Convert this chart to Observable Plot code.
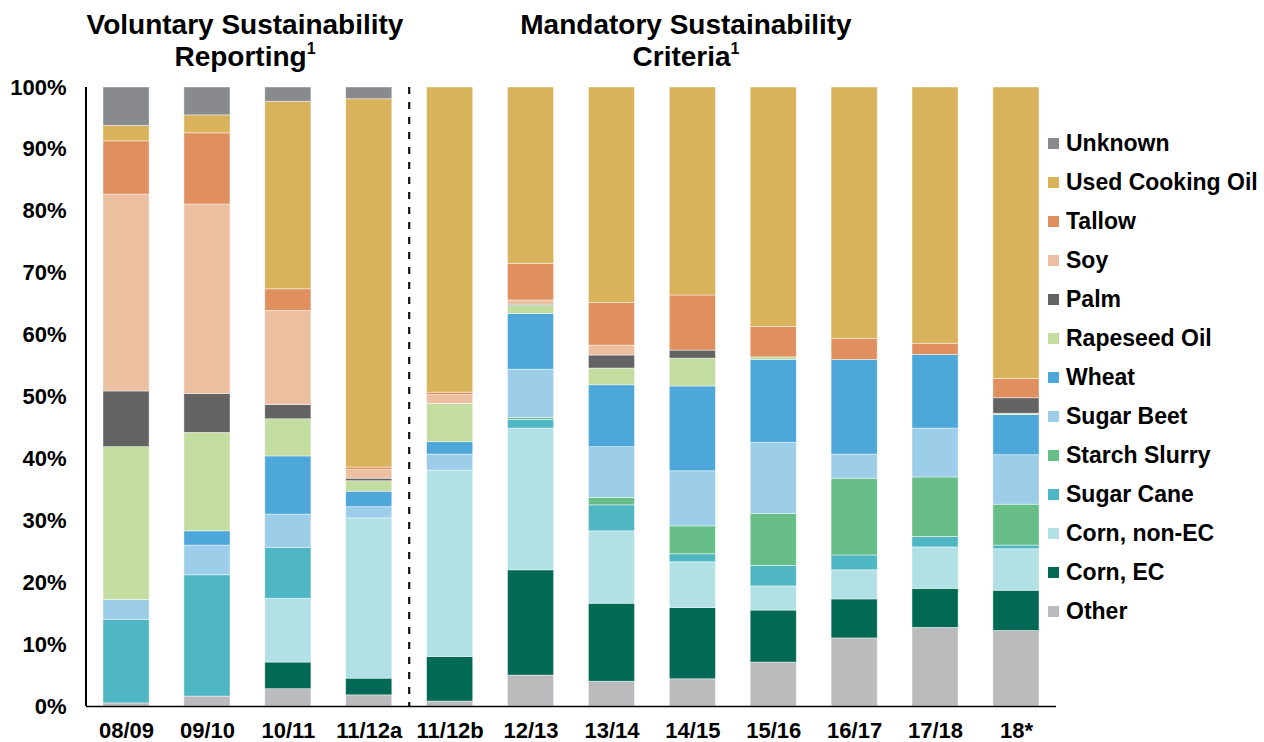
<!DOCTYPE html>
<html>
<head>
<meta charset="utf-8">
<script src="https://cdn.jsdelivr.net/npm/d3@7"></script>
<script src="https://cdn.jsdelivr.net/npm/@observablehq/plot@0.6"></script>
<style>
  html, body { margin: 0; padding: 0; background: #fff; }
  #wrap { position: relative; width: 1264px; height: 742px; font-family: "Liberation Sans", Arial, sans-serif; font-weight: bold; color: #000; }
  .title { position: absolute; top: 9px; width: 440px; text-align: center; font-size: 28px; line-height: 32px; }
  .title sup { font-size: 16px; line-height: 0; vertical-align: 12px; }
  #legend { position: absolute; left: 1048px; top: 124px; }
  .item { display: flex; align-items: center; height: 39px; font-size: 23px; white-space: nowrap; }
  .item .sw { width: 11px; height: 11px; margin-right: 7px; flex: none; }
  #chart { position: absolute; left: 0; top: 0; }
</style>
</head>
<body>
<div id="wrap">
  <div id="chart"></div>
  <div class="title" id="t1" style="left:25px">Voluntary Sustainability<br>Reporting<sup>1</sup></div>
  <div class="title" id="t2" style="left:466px">Mandatory Sustainability<br>Criteria<sup>1</sup></div>
  <div id="legend"></div>
</div>
<script>
// ---- data ----
const years = ["08/09","09/10","10/11","11/12a","11/12b","12/13","13/14","14/15","15/16","16/17","17/18","18*"];
const series = ["Other","Corn, EC","Corn, non-EC","Sugar Cane","Starch Slurry","Sugar Beet","Wheat","Rapeseed Oil","Palm","Soy","Tallow","Used Cooking Oil","Unknown"];
const colors = ["#bbbbbd","#026955","#b1e0e5","#4fb6c4","#67bf87","#9ccde9","#4ea7d9","#c2dd9f","#636363","#ecbfa1","#e08f5f","#d8b35b","#898a8d"];

const other      = [0.5, 1.6, 2.8, 1.8, 0.8, 5.0, 4.0, 4.4, 7.1, 11.0, 12.7, 12.2];
const cornEC     = [0, 0, 4.3, 2.7, 7.2, 17.0, 12.6, 11.5, 8.4, 6.3, 6.3, 6.5];
const cornNonEC  = [0, 0, 10.3, 25.9, 30.1, 22.9, 11.7, 7.4, 3.9, 4.7, 6.7, 6.7];
const sugarCane  = [13.5, 19.6, 8.2, 0, 0, 1.4, 4.2, 1.3, 3.3, 2.4, 1.7, 0.6];
const starch     = [0, 0, 0, 0, 0, 0.3, 1.2, 4.5, 8.4, 12.4, 9.6, 6.6];
const sugarBeet  = [3.2, 4.8, 5.4, 1.8, 2.6, 7.8, 8.2, 8.9, 11.5, 3.9, 7.9, 8.0];
const wheat      = [0, 2.3, 9.4, 2.5, 2.0, 9.0, 10.0, 13.7, 13.4, 15.3, 11.9, 6.5];
const rapeseed   = [24.7, 15.9, 6.0, 1.7, 6.2, 1.3, 2.7, 4.5, 0.4, 0, 0, 0.2];
const palm       = [9.0, 6.3, 2.3, 0.4, 0, 0.2, 2.1, 1.3, 0, 0, 0, 2.5];
const soy        = [31.8, 30.6, 15.2, 1.4, 1.4, 0.7, 1.6, 0, 0, 0, 0, 0];
const tallow     = [8.6, 11.5, 3.5, 0.4, 0.4, 5.9, 6.9, 8.9, 4.9, 3.4, 1.8, 3.1];
const uco        = [2.5, 2.9, 30.3, 59.5, 49.3, 28.5, 34.8, 33.6, 38.7, 40.6, 41.4, 47.1];
const unknown    = [6.2, 4.5, 2.3, 1.9, 0, 0, 0, 0, 0, 0, 0, 0];

const yTicks = [0, 10, 20, 30, 40, 50, 60, 70, 80, 90, 100];
const dividerAfter = "11/12a";

// ---- build tidy table ----
const valuesBySeries = [other, cornEC, cornNonEC, sugarCane, starch, sugarBeet, wheat, rapeseed, palm, soy, tallow, uco, unknown];
const rows = [];
series.forEach((s, si) => {
  years.forEach((yr, yi) => rows.push({year: yr, source: s, value: valuesBySeries[si][yi]}));
});

const chart = Plot.plot({
  width: 1264,
  height: 742,
  marginTop: 87,
  marginBottom: 36,
  marginLeft: 86,
  marginRight: 208,
  style: {fontFamily: '"Liberation Sans", Arial, sans-serif', fontSize: "22px", fontWeight: "bold", color: "#000", background: "transparent", overflow: "visible"},
  x: {domain: years, paddingInner: 0.43, paddingOuter: 0.21, round: false, label: null},
  y: {domain: [0, 100], label: null},
  color: {domain: series, range: colors},
  marks: [
    Plot.barY(rows, {x: "year", y: "value", fill: "source", order: series, stroke: "#ffffff", strokeWidth: 0.8, strokeOpacity: 0.55}),
    Plot.ruleY([0], {stroke: "#000", strokeWidth: 1.5}),
    Plot.axisX({tickSize: 0, tickPadding: 16, label: null}),
    Plot.axisY({ticks: yTicks, tickSize: 0, tickPadding: 20, tickFormat: d => d + "%", label: null})
  ]
});
document.getElementById("chart").appendChild(chart);

// axis line and dashed divider, positioned from the chart's own scales
const xs = chart.scale("x"), ys = chart.scale("y");
const svg = d3.select(chart);
const xLeft = xs.range[0];
svg.append("line")
  .attr("x1", xLeft).attr("x2", xLeft)
  .attr("y1", ys.apply(100)).attr("y2", ys.apply(0))
  .attr("stroke", "#000").attr("stroke-width", 2);
const i = years.indexOf(dividerAfter);
const xd = (xs.apply(years[i]) + xs.bandwidth + xs.apply(years[i + 1])) / 2;
svg.append("line")
  .attr("x1", xd).attr("x2", xd)
  .attr("y1", ys.apply(100)).attr("y2", ys.apply(0))
  .attr("stroke", "#111").attr("stroke-width", 2.2).attr("stroke-dasharray", "7,8");

// legend (top to bottom, reverse stacking order)
const legend = document.getElementById("legend");
series.slice().reverse().forEach(s => {
  const c = colors[series.indexOf(s)];
  const d = document.createElement("div");
  d.className = "item";
  d.innerHTML = `<span class="sw" style="background:${c}"></span><span>${s}</span>`;
  legend.appendChild(d);
});
</script>
</body>
</html>
